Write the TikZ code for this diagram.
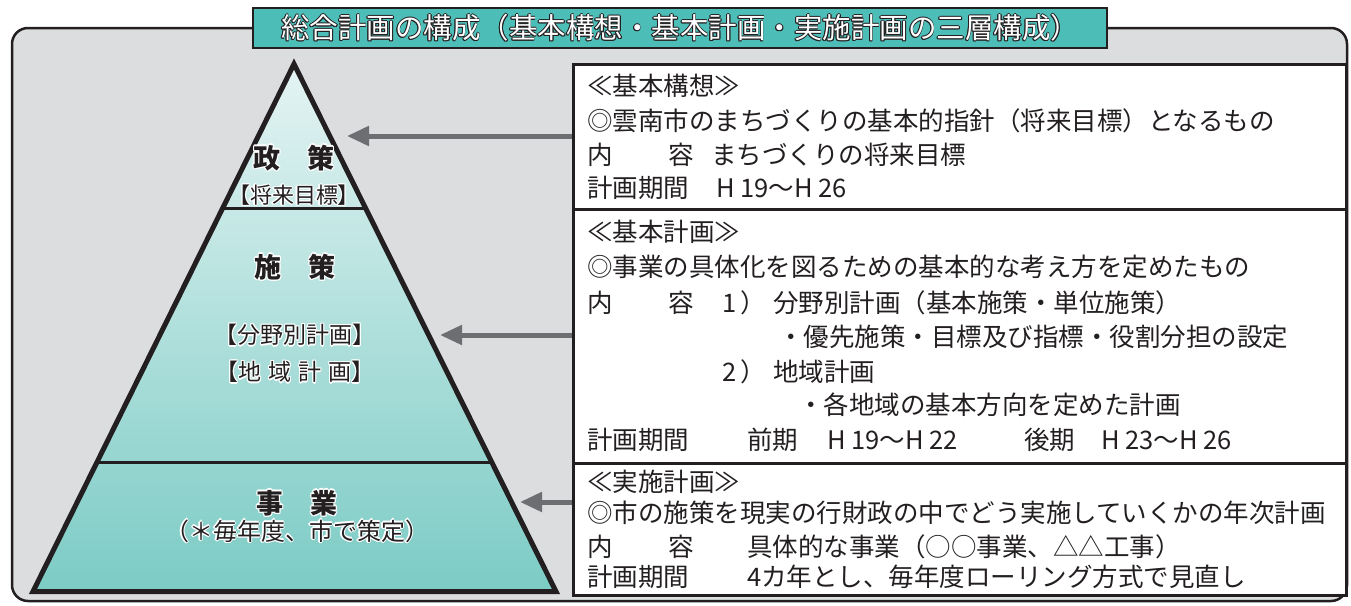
\documentclass[tikz,border=0pt]{standalone}
\usepackage{fontspec}
\usetikzlibrary{arrows.meta,calc}
\newfontfamily\jp{Noto Sans CJK JP}
\newfontfamily\jpp{Noto Sans CJK JP}[RawFeature=+palt]
\definecolor{dark}{HTML}{231F20}
\definecolor{framebg}{HTML}{DCDDDE}
\definecolor{titleteal}{HTML}{4DBDB8}
\definecolor{arrowgray}{HTML}{6D6E71}
\definecolor{tritop}{HTML}{E4F4F3}
\definecolor{tribot}{HTML}{7CCBC5}
\newbox\hbx
\newcommand\halotext[4]{%
  \setbox\hbx\hbox{#4}%
  \leavevmode
  \rlap{\color{#1}\kern#3pt\copy\hbx}%
  \rlap{\color{#1}\kern-#3pt\copy\hbx}%
  \rlap{\color{#1}\raise#3pt\copy\hbx}%
  \rlap{\color{#1}\lower#3pt\copy\hbx}%
  \rlap{\color{#1}\kern\dimexpr#3pt*7/10\relax\raise\dimexpr#3pt*7/10\relax\copy\hbx}%
  \rlap{\color{#1}\kern\dimexpr#3pt*7/10\relax\lower\dimexpr#3pt*7/10\relax\copy\hbx}%
  \rlap{\color{#1}\kern-\dimexpr#3pt*7/10\relax\raise\dimexpr#3pt*7/10\relax\copy\hbx}%
  \rlap{\color{#1}\kern-\dimexpr#3pt*7/10\relax\lower\dimexpr#3pt*7/10\relax\copy\hbx}%
  {\color{#2}\copy\hbx}}
\tikzset{
  boxtxt/.style={anchor=west, inner sep=0pt, text=dark, font=\jp\fontsize{25.5}{27}\selectfont},
  textbox/.style={draw=dark, fill=white, line width=2.5pt, minimum width=773pt, anchor=north west, inner sep=0pt},
  tribold/.style={inner sep=0pt, font=\jp\bfseries\fontsize{27}{28}\selectfont},
  trilab/.style={inner sep=0pt, font=\jp\fontsize{23}{24}\selectfont},
  arr/.style={draw=arrowgray, line width=5pt, -{Triangle[length=22pt,width=19pt]}},
}
\begin{document}
\begin{tikzpicture}[x=1pt,y=-1pt]
\useasboundingbox (0,0) rectangle (1351,605);
% frame
\draw[dark, line width=2.5pt, fill=framebg, rounded corners=16pt] (12,28) rectangle (1347,601);
% title
\node[fill=titleteal, draw=dark, line width=1.2pt, minimum width=854pt, minimum height=40pt, inner sep=0pt,
      font=\jp\fontsize{28.5}{30}\selectfont] (title) at (680,28)
  {\halotext{dark}{white}{0.9}{総合計画の構成（基本構想・基本計画・実施計画の三層構成）}};
% pyramid
\coordinate (A) at (294,64);
\coordinate (BL) at (33,591.5);
\coordinate (BR) at (556,591.5);
\shade[top color=tritop, bottom color=tribot] (A) -- (BL) -- (BR) -- cycle;
\draw[dark, line width=3pt] ($(A)!0.273!(BL)$) -- ($(A)!0.273!(BR)$);
\draw[dark, line width=3pt] ($(A)!0.7545!(BL)$) -- ($(A)!0.7545!(BR)$);
\draw[dark, line width=5pt, line join=miter] (A) -- (BL) -- (BR) -- cycle;
% pyramid labels
\node[tribold] (seisaku) at (294,158) {\halotext{white}{dark}{1.4}{政　策}};
\node[trilab, font=\jpp\fontsize{22}{24}\selectfont] (shorai) at (294,195) {\halotext{white}{dark}{1.3}{【将来目標】}};
\node[tribold] (shisaku) at (295,267) {\halotext{white}{dark}{1.4}{施　策}};
\node[trilab] (bunya) at (295,335) {\halotext{white}{dark}{1.3}{【分野別計画】}};
\node[trilab] (chiiki) at (295,372) {\halotext{white}{dark}{1.3}{【地\hspace{0.3em}域\hspace{0.3em}計\hspace{0.3em}画】}};
\node[tribold] (jigyo) at (297,503) {\halotext{white}{dark}{1.4}{事　業}};
\node[trilab, font=\jp\fontsize{24}{25}\selectfont] (maitoshi) at (297,531) {\halotext{white}{dark}{1.3}{（＊毎年度、市で策定）}};
% boxes
\node[textbox, minimum height=145pt] (box1) at (572,63) {};
\node[textbox, minimum height=254pt] (box2) at (572,208) {};
\node[textbox, minimum height=132pt] (box3) at (572,462) {};
% arrows
\coordinate (t1) at (347,136);
\coordinate (t2) at (440,335);
\coordinate (t3) at (520,502);
\draw[arr] (box1.west |- t1) -- (t1);
\draw[arr] (box2.west |- t2) -- (t2);
\draw[arr] (box3.west |- t3) -- (t3);
% box 1 text
\node[boxtxt] (k1a) at (587,86) {≪基本構想≫};
\node[boxtxt] (k1b) at (587,121) {◎雲南市のまちづくりの基本的指針（将来目標）となるもの};
\node[boxtxt] (k1c) at (587,155) {内};
\node[boxtxt] (k1d) at (668,155) {容};
\node[boxtxt] (k1e) at (711,155) {まちづくりの将来目標};
\node[boxtxt] (k1f) at (587,188) {計画期間};
\node[boxtxt] (k1g) at (716,188) {H 19〜H 26};
% box 2 text
\node[boxtxt] (k2a) at (587,232) {≪基本計画≫};
\node[boxtxt] (k2b) at (587,267) {◎事業の具体化を図るための基本的な考え方を定めたもの};
\node[boxtxt] (k2c) at (587,303) {内};
\node[boxtxt] (k2d) at (668,303) {容};
\node[boxtxt] (k2e) at (722,303) {1};
\node[boxtxt] (k2f) at (740,303) {）};
\node[boxtxt] (k2g) at (773,303) {分野別計画（基本施策・単位施策）};
\node[boxtxt] (k2h) at (778,337) {・優先施策・目標及び指標・役割分担の設定};
\node[boxtxt] (k2i) at (722,372) {2};
\node[boxtxt] (k2j) at (740,372) {）};
\node[boxtxt] (k2k) at (773,372) {地域計画};
\node[boxtxt] (k2l) at (798,405) {・各地域の基本方向を定めた計画};
\node[boxtxt] (k2m) at (587,440) {計画期間};
\node[boxtxt] (k2n) at (747,440) {前期};
\node[boxtxt] (k2o) at (827,440) {H 19〜H 22};
\node[boxtxt] (k2p) at (1024,440) {後期};
\node[boxtxt] (k2q) at (1101,440) {H 23〜H 26};
% box 3 text
\node[boxtxt] (k3a) at (587,482) {≪実施計画≫};
\node[boxtxt] (k3b) at (587,513) {◎市の施策を現実の行財政の中でどう実施していくかの年次計画};
\node[boxtxt] (k3c) at (587,547) {内};
\node[boxtxt] (k3d) at (668,547) {容};
\node[boxtxt] (k3e) at (747,547) {具体的な事業（○○事業、△△工事）};
\node[boxtxt] (k3f) at (587,577) {計画期間};
\node[boxtxt] (k3g) at (747,577) {4カ年とし、毎年度ローリング方式で見直し};
\end{tikzpicture}
\end{document}
